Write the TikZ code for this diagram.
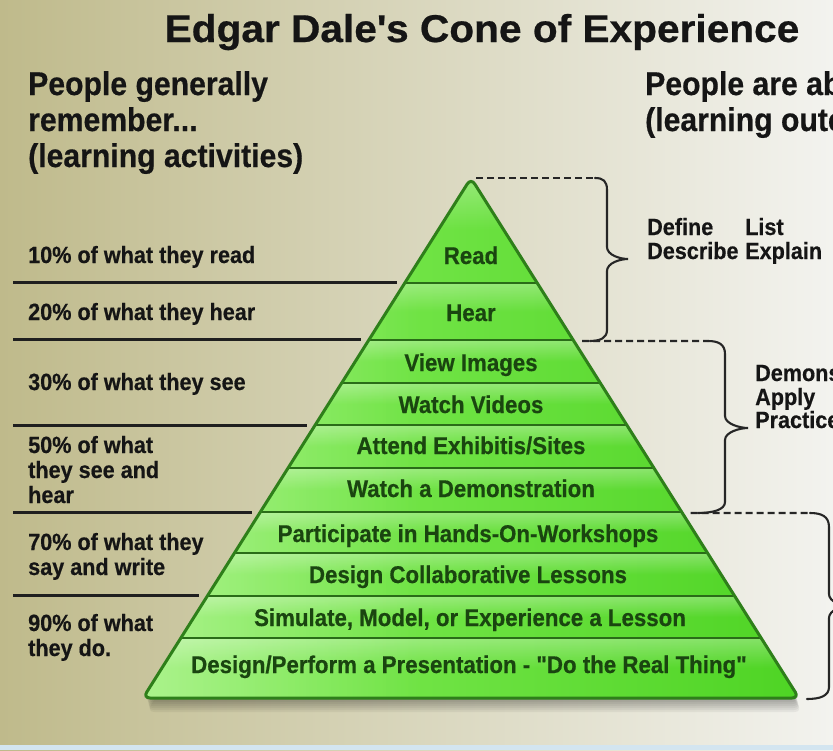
\documentclass[tikz,border=0pt]{standalone}
\usepackage{fontspec}
\setmainfont{Liberation Sans}
\newfontfamily\cfont{Liberation Sans}[FakeStretch=0.92,FakeBold=0.5]
\newfontfamily\tfont{Liberation Sans}[FakeStretch=1.05,FakeBold=0.6]
\usetikzlibrary{calc,fadings}
\definecolor{bgL}{HTML}{BFBA8B}
\definecolor{bgM}{HTML}{DCDBC6}
\definecolor{bgR}{HTML}{F3F3EF}
\definecolor{strip}{HTML}{D3E5F0}
\definecolor{txt}{HTML}{151515}
\definecolor{gL}{HTML}{88EE5C}
\definecolor{gM}{HTML}{66E034}
\definecolor{gR}{HTML}{4ED424}
\definecolor{gline}{HTML}{2A6C18}
\definecolor{gout}{HTML}{2E7F1A}
\definecolor{lvltxt}{HTML}{1A4510}
\begin{document}
\begin{tikzpicture}[x=1pt,y=-1pt,
  title/.style={font=\tfont\bfseries\fontsize{38.7}{40}\selectfont, text=txt, anchor=base, inner sep=0pt},
  hdr/.style={font=\cfont\bfseries\fontsize{32.8}{36}\selectfont, text=txt, anchor=base west, inner sep=0pt},
  lbl/.style={font=\cfont\bfseries\fontsize{23.5}{25}\selectfont, text=txt, anchor=base west, inner sep=0pt},
  lvl/.style={font=\cfont\bfseries\fontsize{24.2}{26}\selectfont, text=lvltxt, anchor=base, inner sep=0pt},
  sepline/.style={line width=3pt, draw=black!88},
  bandline/.style={line width=2.5pt, draw=gline},
  dashline/.style={line width=2.2pt, draw=black!85, dash pattern=on 7pt off 4pt},
  brc/.style={line width=2.1pt, draw=black!85, line cap=round},
]
\useasboundingbox (0,0) rectangle (833,750);
\clip (0,0) rectangle (833,750);
% background
\shade[left color=bgL, middle color=bgM, right color=bgR] (0,0) rectangle (833,750);
\fill[strip] (0,745) rectangle (833,750);

% pyramid geometry
\coordinate (apex) at (471,178);
\coordinate (bl) at (143,698);
\coordinate (br) at (799,698);
\foreach \k/\t in {1/0.2019,2/0.3115,3/0.3942,4/0.4750,5/0.5577,6/0.6423,7/0.7212,8/0.8038,9/0.8846}{
  \coordinate (L\k) at ($(apex)!\t!(bl)$);
  \coordinate (R\k) at ($(apex)!\t!(br)$);
}

% shadow
\foreach \s in {2,4,6,8,10,12,14}{
  \fill[black, opacity=0.05, rounded corners=8pt] ($(apex)+(\s/4,\s)$) -- ($(bl)+(\s/4,\s)$) -- ($(br)+(\s/4,\s)$) -- cycle;
}

% pyramid fill
\begin{scope}
  \clip[rounded corners=7pt] (apex) -- (bl) -- (br) -- cycle;
  \shade[left color=gL, middle color=gM, right color=gR] (140,170) rectangle (802,702);
  \foreach \a/\b in {178/283,283/340,340/383,383/425,425/468,468/512,512/553,553/596,596/638,638/698}{
    \fill[white, opacity=0.3, path fading=south] (140,\a) rectangle (802,{\a+0.5*(\b-\a)});
  }
  \fill[white, opacity=0.3, path fading=east] (140,170) rectangle (420,702);
\end{scope}
\foreach \k in {1,...,9}{ \draw[bandline] (L\k) -- (R\k); }
\draw[line width=3pt, draw=gout, rounded corners=7pt] (apex) -- (bl) -- (br) -- cycle;

% left separator lines
\foreach \k in {1,2,4,6,8}{
  \coordinate (sl\k) at (13,0 |- L\k);
  \coordinate (sr\k) at ($(L\k)+(-8,0)$);
  \draw[sepline] (sl\k) -- (sr\k);
}

% dashed lines and braces
\coordinate (d1a) at ($(apex)+(5,0)$);
\coordinate (d1b) at (595,178);
\draw[dashline] (d1a) -- (d1b);
\draw[brc] (d1b) .. controls (603,178) and (607,181) .. (607,190) -- (607,247)
  .. controls (607,255) and (620,259) .. (628,259)
  .. controls (620,259) and (607,263) .. (607,271) -- (607,330)
  .. controls (607,338) and (600,341) .. (590,341);
\coordinate (d2a) at ($(R2)+(9,1)$);
\coordinate (d2b) at (708,341);
\draw[dashline] (d2a) -- (d2b);
\draw[brc] (d2b) .. controls (718,341) and (725,344) .. (725,354) -- (725,416)
  .. controls (725,424) and (740,428) .. (748,428)
  .. controls (740,428) and (725,432) .. (725,440) -- (725,502)
  .. controls (725,510) and (712,513) .. (698,513);
\coordinate (d3a) at ($(R6)+(9,1)$);
\coordinate (d3b) at (810,513);
\draw[dashline] (d3a) -- (d3b);
\draw[brc] (d3b) .. controls (821,513) and (829,516) .. (829,527) -- (829,594)
  .. controls (829,602) and (842,606) .. (850,606)
  .. controls (842,606) and (829,610) .. (829,618) -- (829,687)
  .. controls (829,696) and (820,699) .. (807,699);

% title and headers
\node[title] (ttl) at (482,42) {Edgar Dale\textquotesingle s Cone of Experience};
\node[hdr] (h1) at (28,95) {People generally};
\node[hdr] (h2) at (28,131) {remember...};
\node[hdr] (h3) at (28,167) {(learning activities)};
\node[hdr] (h4) at (645,95) {People are ab};
\node[hdr] (h5) at (645,131) {(learning outc};

% left labels
\node[lbl] (p10) at (28,263) {10\% of what they read};
\node[lbl] (p20) at (28,320) {20\% of what they hear};
\node[lbl] (p30) at (28,390) {30\% of what they see};
\node[lbl] (p50a) at (28,453) {50\% of what};
\node[lbl] (p50b) at (28,478) {they see and};
\node[lbl] (p50c) at (28,503) {hear};
\node[lbl] (p70a) at (28,550) {70\% of what they};
\node[lbl] (p70b) at (28,575) {say and write};
\node[lbl] (p90a) at (28,631) {90\% of what};
\node[lbl] (p90b) at (28,656) {they do.};

% right outcomes
\node[lbl] (o1) at (647,235) {Define};
\node[lbl] (o2) at (745,235) {List};
\node[lbl] (o3) at (647,259) {Describe};
\node[lbl] (o4) at (745,259) {Explain};
\node[lbl] (o5) at (755,381) {Demons};
\node[lbl] (o6) at (755,405) {Apply};
\node[lbl] (o7) at (755,428) {Practice};

% pyramid levels
\node[lvl] (v1) at (471,264) {Read};
\node[lvl] (v2) at (471,321) {Hear};
\node[lvl] (v3) at (471,371) {View Images};
\node[lvl] (v4) at (471,413) {Watch Videos};
\node[lvl] (v5) at (471,454) {Attend Exhibitis/Sites};
\node[lvl] (v6) at (471,497) {Watch a Demonstration};
\node[lvl] (v7) at (468,542) {Participate in Hands-On-Workshops};
\node[lvl] (v8) at (468,583) {Design Collaborative Lessons};
\node[lvl] (v9) at (470,626) {Simulate, Model, or Experience a Lesson};
\node[lvl] (v10) at (469,673) {Design/Perform a Presentation - "Do the Real Thing"};
\end{tikzpicture}
\end{document}
